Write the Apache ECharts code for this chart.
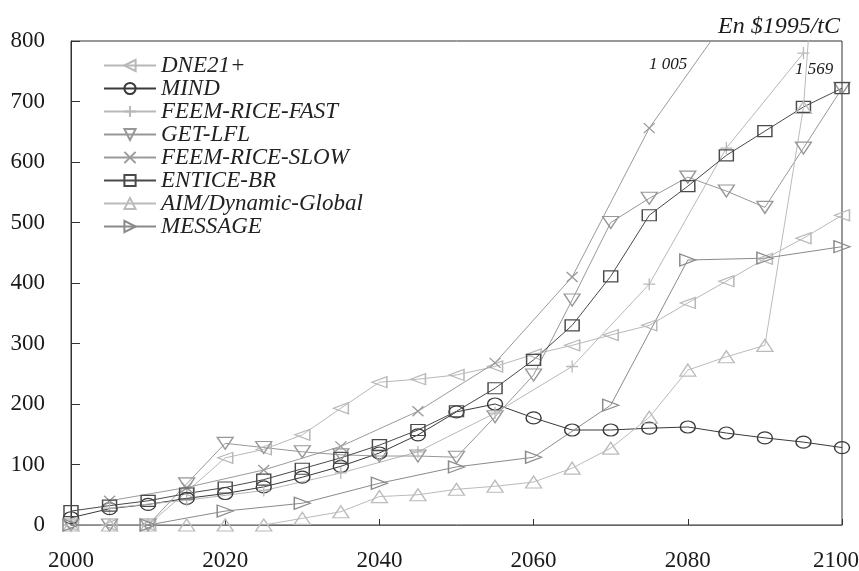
<!DOCTYPE html>
<html>
<head>
<meta charset="utf-8">
<script src="https://cdn.jsdelivr.net/npm/echarts@6/dist/echarts.min.js"></script>
<style>
  html, body { margin: 0; padding: 0; background: #fff; }
  #chart { width: 859px; height: 571px; }
</style>
</head>
<body>
<div id="chart"></div>
<script>
// Carbon price paths by model, $1995 per tonne of carbon
const years5 = [2000, 2005, 2010, 2015, 2020, 2025, 2030, 2035, 2040, 2045, 2050,
                2055, 2060, 2065, 2070, 2075, 2080, 2085, 2090, 2095, 2100];
const yearsFeem = [2005, 2015, 2025, 2035, 2045, 2055, 2065, 2075, 2085, 2095];
const yearsMessage = [2000, 2010, 2020, 2030, 2040, 2050, 2060, 2070, 2080, 2090, 2100];

const dne21 = [0, 0, 0, 55, 111, 125, 149, 193, 236, 241, 248, 262, 282, 297, 314, 330, 367, 403, 440, 474, 512];
const mind = [12, 27, 34, 44, 52, 63, 79, 97, 119, 149, 187, 200, 177, 157, 157, 160, 162, 152, 144, 137, 128];
const feemFast = [28, 41, 57, 86, 121, 185, 262, 398, 623, 780];
const getLfl = [0, 0, 0, 68, 135, 128, 121, 116, 114, 114, 112, 179, 248, 372, 500, 540, 575, 552, 525, 623, 722];
const feemSlow = [40, 62, 91, 130, 188, 268, 410, 656, 836, 1005];
const enticeBr = [23, 32, 40, 52, 62, 75, 93, 111, 132, 157, 188, 226, 273, 330, 411, 512, 560, 611, 651, 691, 722];
const aim = [0, 0, 0, 0, 0, 0, 11, 22, 47, 50, 59, 64, 71, 94, 127, 178, 256, 278, 297, 690, 1569];
const message = [0, 0, 23, 36, 69, 96, 112, 198, 438, 441, 460];

const yTicks = [0, 100, 200, 300, 400, 500, 600, 700, 800];
const xTicks = [2000, 2020, 2040, 2060, 2080, 2100];

const serif = '"Liberation Serif", "DejaVu Serif", serif';
const pair = (xs, ys) => xs.map((x, i) => [x, ys[i]]);

const PLUS = 'path://M5,0L5,10M0,5L10,5';
const CROSS = 'path://M0,0L10,10M10,0L0,10';

function mkSeries(name, xs, ys, color, symbol, size, rotate) {
  return {
    name: name,
    type: 'line',
    data: pair(xs, ys),
    symbol: symbol,
    symbolSize: size,
    symbolRotate: rotate || 0,
    showAllSymbol: true,
    clip: true,
    lineStyle: { color: color, width: 1 },
    itemStyle: { color: 'rgba(255,255,255,0)', borderColor: color, borderWidth: 1.3 },
    emphasis: { disabled: true },
    z: 2
  };
}

const series = [
  mkSeries('DNE21+', years5, dne21, '#b8b8b8', 'triangle', [11, 15], 90),
  mkSeries('MIND', years5, mind, '#3a3a3a', 'circle', [15, 12]),
  mkSeries('FEEM-RICE-FAST', yearsFeem, feemFast, '#b8b8b8', PLUS, [12, 12]),
  mkSeries('GET-LFL', years5, getLfl, '#979797', 'triangle', [16, 12], 180),
  mkSeries('FEEM-RICE-SLOW', yearsFeem, feemSlow, '#9a9a9a', CROSS, [11, 10]),
  mkSeries('ENTICE-BR', years5, enticeBr, '#4a4a4a', 'rect', [14, 11]),
  mkSeries('AIM/Dynamic-Global', years5, aim, '#bbbbbb', 'triangle', [16, 12]),
  mkSeries('MESSAGE', yearsMessage, message, '#8a8a8a', 'triangle', [12, 16], -90)
];

const chart = echarts.init(document.getElementById('chart'), null, { renderer: 'canvas' });

chart.setOption({
  animation: false,
  backgroundColor: '#ffffff',
  grid: {
    left: 71, right: 17, top: 41, bottom: 46,
    containLabel: false,
    outerBoundsMode: 'none',
    show: true, borderColor: '#333', borderWidth: 1, backgroundColor: 'transparent'
  },
  legend: {
    orient: 'vertical',
    left: 98, top: 49,
    itemWidth: 52, itemHeight: 14, itemGap: 0,
    padding: 5,
    textStyle: { fontFamily: serif, fontStyle: 'italic', fontSize: 23, lineHeight: 23, color: '#222' },
    data: series.map(s => s.name)
  },
  xAxis: {
    type: 'value',
    min: xTicks[0], max: xTicks[xTicks.length - 1], interval: 20,
    axisLine: { lineStyle: { color: '#666', width: 1 } },
    axisTick: { inside: true, length: 6, lineStyle: { color: '#333' } },
    splitLine: { show: false },
    axisLabel: {
      margin: 24,
      fontFamily: serif, fontSize: 23, color: '#1a1a1a',
      formatter: v => (v === 2100 ? '{r|' + v + '}' : String(v)),
      rich: { r: { fontFamily: serif, fontSize: 23, color: '#1a1a1a', padding: [0, 12, 0, 0] } }
    }
  },
  yAxis: {
    type: 'value',
    min: yTicks[0], max: yTicks[yTicks.length - 1], interval: 100,
    axisLine: { show: true, lineStyle: { color: '#333', width: 1 } },
    axisTick: { show: true, inside: true, length: 9, lineStyle: { color: '#333' } },
    splitLine: { show: false },
    axisLabel: { margin: 26, fontFamily: serif, fontSize: 23, color: '#1a1a1a' }
  },
  graphic: [
    {
      type: 'text', right: 19, top: 15,
      style: { text: 'En $1995/tC', fontFamily: serif, fontStyle: 'italic', fontSize: 24, fill: '#1a1a1a' }
    },
    {
      type: 'text', left: 649, top: 56,
      style: { text: '1 005', fontFamily: serif, fontStyle: 'italic', fontSize: 17, fill: '#1a1a1a' }
    },
    {
      type: 'text', left: 795, top: 61,
      style: { text: '1 569', fontFamily: serif, fontStyle: 'italic', fontSize: 17, fill: '#1a1a1a' }
    }
  ],
  series: series
});
</script>
</body>
</html>
